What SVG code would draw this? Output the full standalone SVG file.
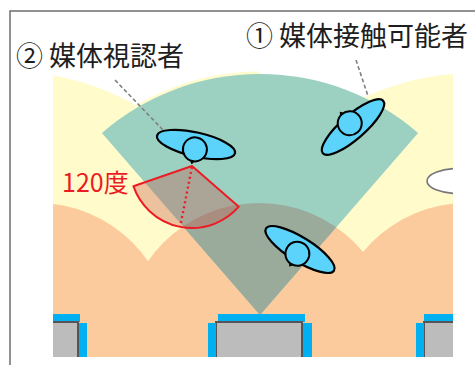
<svg xmlns="http://www.w3.org/2000/svg" width="475" height="365" viewBox="0 0 475 365">
  <style>
    .label { font-family: "Noto Sans CJK JP", "Noto Sans", sans-serif; font-size: 27px; fill: #1e1e1e; }
    .angle { font-family: "Noto Sans CJK JP", "Noto Sans", sans-serif; font-size: 25px; fill: #ec1c24; }
    .yellow { fill: #fffbcb; }
    .orange { fill: #fccb9d; }
    .body { fill: #5cd3fa; stroke: #000; stroke-width: 2.2; }
    .head { fill: #5cd3fa; stroke: #000; stroke-width: 2; }
    .nose { fill: #000; stroke: #000; stroke-width: 1; stroke-linejoin: round; }
    .leader { stroke: #808080; stroke-width: 1.6; stroke-dasharray: 4 2.5; fill: none; }
    .blue { fill: #00b0f0; }
    .box { fill: #bcbcbc; stroke: #555; stroke-width: 2; }
  </style>
  <defs>
    <clipPath id="scene">
      <rect x="53" y="0" width="400" height="357"/>
    </clipPath>
    <clipPath id="fanClip">
      <path d="M260,315 L101.9,133.1 A241,241 0 0 1 418.1,133.1 Z"/>
    </clipPath>
    <g id="person">
      <ellipse class="body" cx="0" cy="0" rx="40" ry="12"/>
      <path class="nose" d="M-2.2,16 L0,19.5 L2.2,16 Z"/>
      <circle class="head" cx="0" cy="5" r="12"/>
    </g>
  </defs>

  <!-- outer frame -->
  <rect x="10" y="11" width="480" height="400" fill="#fff" stroke="#6e6e6e" stroke-width="1.5"/>

  <!-- floor areas -->
  <g id="floor" clip-path="url(#scene)">
    <circle class="yellow" cx="5" cy="338" r="267"/>
    <circle class="yellow" cx="475" cy="338" r="265"/>
    <path class="yellow" d="M260,315 L100.3,131.2 A243.5,243.5 0 0 1 260,71.5 Z"/>
    <circle class="orange" cx="37" cy="338" r="135"/>
    <circle class="orange" cx="259" cy="338" r="135"/>
    <circle class="orange" cx="467" cy="338" r="135"/>
    <!-- contact area fan -->
    <path d="M260,315 L101.9,133.1 A241,241 0 0 1 418.1,133.1 Z" fill="#9cd0c0"/>
    <circle cx="259" cy="338" r="135" fill="#9aab9c" clip-path="url(#fanClip)"/>
    <!-- object at right edge -->
    <ellipse cx="458" cy="181" rx="31" ry="12.5" fill="#fff" stroke="#777" stroke-width="1.6"/>
  </g>

  <!-- signage units -->
  <g id="signs" clip-path="url(#scene)">
    <g id="sign-left">
      <rect class="blue" x="53" y="314" width="27" height="8"/>
      <rect class="box" x="40" y="322" width="38" height="40"/>
      <rect class="blue" x="79" y="323" width="8" height="34"/>
    </g>
    <g id="sign-center">
      <rect class="blue" x="218" y="314" width="87" height="8"/>
      <rect class="box" x="216" y="322" width="86" height="40"/>
      <rect class="blue" x="208" y="323" width="8" height="34"/>
      <rect class="blue" x="303" y="323" width="9" height="34"/>
    </g>
    <g id="sign-right">
      <rect class="blue" x="424" y="314" width="29" height="8"/>
      <rect class="box" x="424" y="322" width="40" height="40"/>
      <rect class="blue" x="416" y="323" width="8" height="34"/>
    </g>
  </g>

  <!-- 120 degree field of view -->
  <g id="view-angle">
    <path d="M192,166 L133.4,186.2 A62,62 0 0 0 238.8,206.7 Z" fill="#c8564a" fill-opacity="0.35" stroke="#ec1c24" stroke-width="2" stroke-linejoin="round"/>
    <line x1="192" y1="167" x2="180.2" y2="226.5" stroke="#ec1c24" stroke-width="2.4" stroke-dasharray="2 3"/>
    <text class="angle" x="62" y="192">120度</text>
  </g>

  <!-- connectors -->
  <g id="connectors">
    <line class="leader" x1="115" y1="80" x2="163" y2="130"/>
    <line class="leader" x1="356" y1="60" x2="368" y2="96"/>
  </g>

  <!-- people -->
  <g id="person-viewer">
    <use href="#person" transform="translate(196,144.5) rotate(12.7)"/>
  </g>
  <g id="person-contact-1">
    <use href="#person" transform="translate(353,127) rotate(139)"/>
  </g>
  <g id="person-contact-2">
    <use href="#person" transform="translate(300,249.5) rotate(31.8)"/>
  </g>

  <!-- labels -->
  <g id="label-viewer">
    <text class="label" x="16" y="66">② 媒体視認者</text>
  </g>
  <g id="label-contact">
    <text class="label" x="246" y="46">① 媒体接触可能者</text>
  </g>
</svg>
